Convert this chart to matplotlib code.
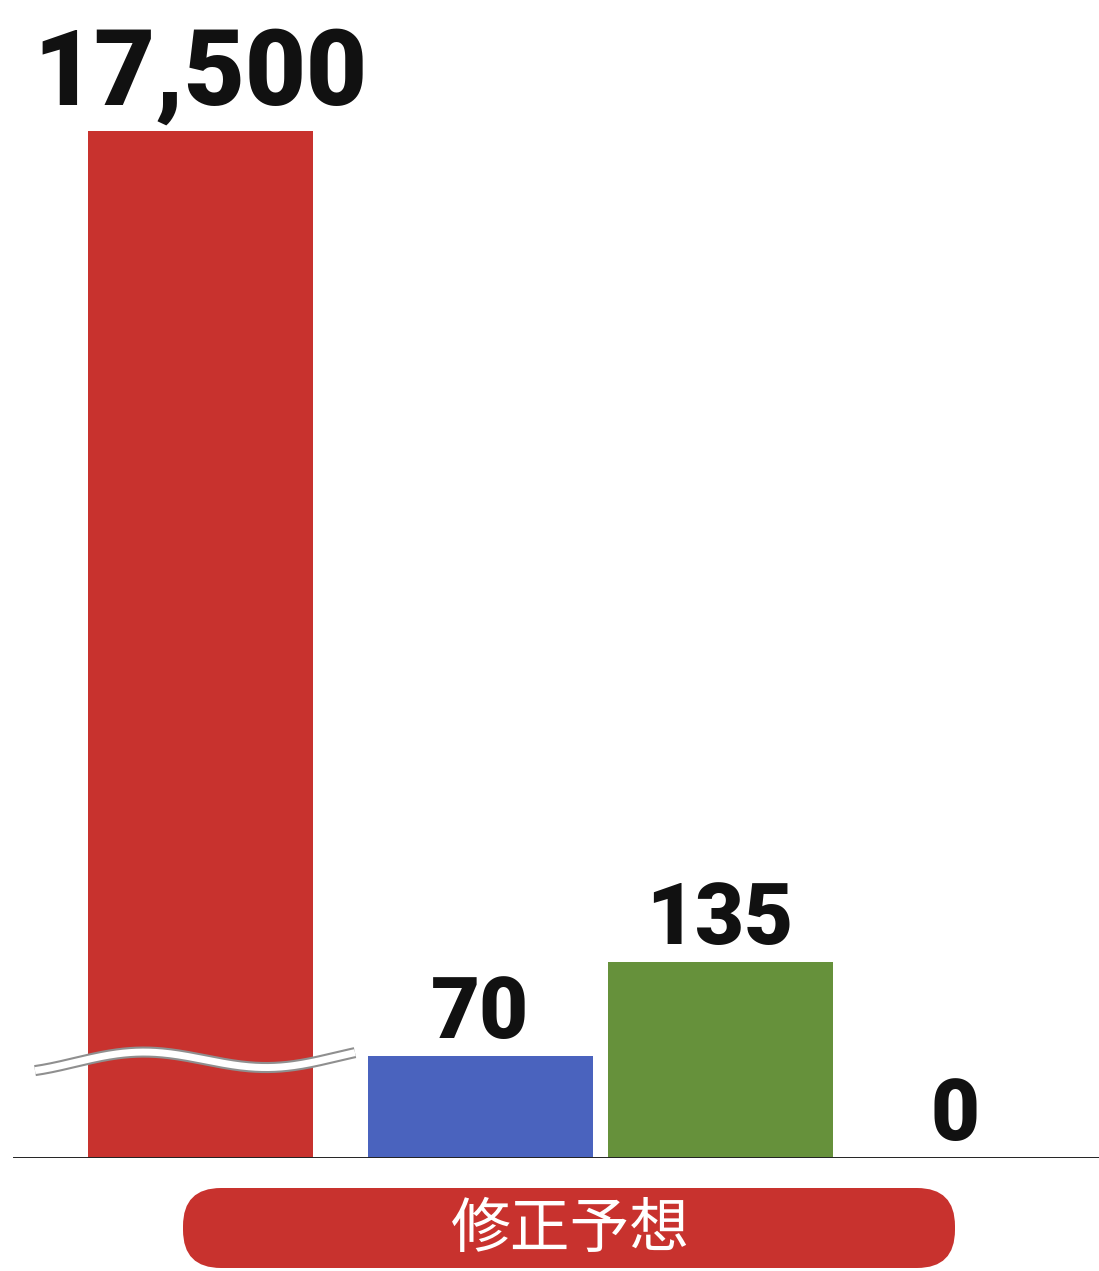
import matplotlib
matplotlib.use("Agg")
import matplotlib.pyplot as plt
from matplotlib.patches import FancyBboxPatch
import numpy as np

# data
values = [17500, 70, 135, 0]
labels = ["17,500", "70", "135", "0"]
colors = ["#C8322E", "#4A63BE", "#66913B", "#C8322E"]
xpos = [200, 480, 720, 955]
category = "修正予想"

# broken y scale: linear below B, compressed above
B = 150.0
K = 0.03218

def fwd(v):
    v = np.asarray(v, dtype=float)
    return np.where(v <= B, v, B + (v - B) * K)

def inv(u):
    u = np.asarray(u, dtype=float)
    return np.where(u <= B, u, B + (u - B) / K)

W, H = 1099, 1271
fig = plt.figure(figsize=(W / 100, H / 100), dpi=100)
fig.patch.set_facecolor("white")

base = 113 / H
ax = fig.add_axes([0, base, 1, 1 - base])
ax.set_yscale("function", functions=(fwd, inv))
ax.set_xlim(0, W)
ax.set_ylim(0, float(inv(798.6)))
ax.axis("off")

ax.bar(xpos, values, width=225, color=colors, zorder=2)
ax.axhline(0, xmin=14 / W, xmax=1, color="#222222", lw=1.4, zorder=3)

# value labels
for x, v, s in zip(xpos, values, labels):
    big = v > B
    ax.annotate(s, (x, v), xytext=(0, 19 if big else 13), textcoords="offset points",
                ha="center", va="baseline", fontsize=76 if big else 61,
                fontweight="black", family="Roboto", color="#111111", zorder=4)

# overlay axes in pixel coords for decorations
ov = fig.add_axes([0, 0, 1, 1])
ov.set_xlim(0, W)
ov.set_ylim(H, 0)
ov.axis("off")

# break squiggle
sx = np.linspace(35, 355, 200)
sy = 1060 - 9 * np.cos(2 * np.pi * (sx - 140) / 260) - (sx - 195) * 0.02
ov.plot(sx, sy, color="#8f8f8f", lw=8, solid_capstyle="butt", zorder=5)
ov.plot(sx, sy, color="white", lw=5, solid_capstyle="butt", zorder=6)

# category pill
pill = FancyBboxPatch((183, 1188), 772, 80, boxstyle="round,pad=0,rounding_size=38",
                      fc="#C8322E", ec="none", zorder=5)
ov.add_patch(pill)
ov.text(570, 1231, category, ha="center", va="center", fontsize=43,
        family=["Noto Sans CJK JP", "DejaVu Sans"], color="white", zorder=6)

fig.savefig("out.png", dpi=100)
